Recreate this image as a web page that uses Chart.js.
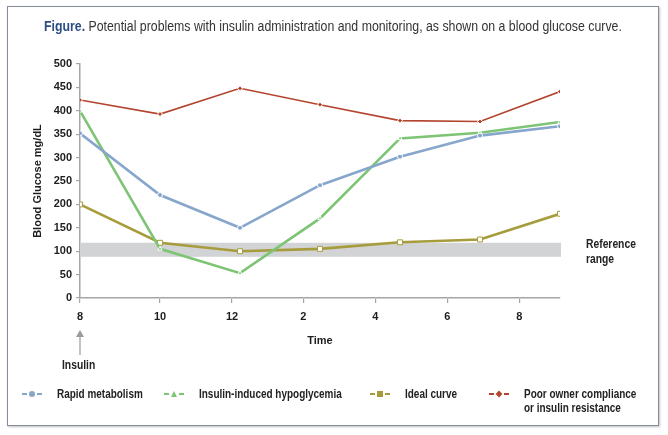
<!DOCTYPE html>
<html>
<head>
<meta charset="utf-8">
<script src="https://cdn.jsdelivr.net/npm/chart.js@4.4.0/dist/chart.umd.min.js"></script>
<style>
    body { margin: 0; background: #fff; font-family: "Liberation Sans", sans-serif; }
    #wrap { position: relative; width: 668px; height: 435px; overflow: hidden; }
    #frame { position: absolute; left: 7px; top: 6px; width: 650px; height: 418px; border: 1.5px solid #858c9c; box-shadow: 1px 1px 2px rgba(0,0,0,0.25); }
    #chart { position: absolute; left: 0; top: 0; }
    #title { position: absolute; left: 44px; top: 18px; font-size: 14px; color: #333; white-space: nowrap; transform-origin: left center; }
    #title b { color: #2c4d84; }
    .note { position: absolute; font-weight: bold; font-size: 12px; color: #222; line-height: 15px; transform: scaleX(0.86); transform-origin: left center; }
    .leg { position: absolute; top: 387px; font-weight: bold; font-size: 12px; color: #222; line-height: 14px; display: flex; }
    .leg .txt { display: inline-block; transform: scaleX(0.83); transform-origin: left top; white-space: nowrap; }
    .mk { display: inline-flex; align-items: center; width: 20px; height: 14px; margin-right: 15px; }
    .mk .ln { width: 5px; height: 2px; }
    .mk .sym { width: 6px; height: 6px; margin: 0 2px; }
</style>
</head>
<body>
<div id="wrap">
    <div id="frame"></div>
    <canvas id="chart" width="668" height="435"></canvas>
    <div id="title"><b>Figure.</b> Potential problems with insulin administration and monitoring, as shown on a blood glucose curve.</div>
    <div class="note" style="left:586px; top:237px;">Reference<br>range</div>
    <div class="note" style="left:62px; top:358px;">Insulin</div>
    <div id="legend"></div>
</div>

<script>
    // sample index 0..6 (points are evenly spaced), tick marks sit a bit off them
    const samples = [0, 1, 2, 3, 4, 5, 6]
    const tickPos = [0, 1, 1.9, 2.79, 3.69, 4.59, 5.49]
    const tickLabels = ["8", "10", "12", "2", "4", "6", "8"]

    const rapidMetabolism = [352, 220, 150, 241, 302, 347, 367]
    const hypoglycemia = [400, 105, 53, 170, 341, 353, 376]
    const idealCurve = [200, 118, 100, 105, 119, 125, 180]
    const poorCompliance = [423, 393, 448, 413, 379, 377, 441]

    const refRange = [88, 118]

    const seriesNames = ["Rapid metabolism", "Insulin-induced hypoglycemia", "Ideal curve", "Poor owner compliance\nor insulin resistance"]
    const seriesColors = ["#87a6cb", "#7dc474", "#a69c3c", "#b3452f"]
    const seriesShapes = ["circle", "triangle", "rect", "rectRot"]

    function toPoints(vals) {
        return vals.map((v, i) => ({ x: samples[i], y: v }))
    }

    const allSeries = [rapidMetabolism, hypoglycemia, idealCurve, poorCompliance]
    const datasets = allSeries.map((vals, idx) => ({
        label: seriesNames[idx],
        data: toPoints(vals),
        borderColor: seriesColors[idx],
        backgroundColor: idx == 2 ? "#fff" : seriesColors[idx],
        pointBorderColor: idx == 2 ? seriesColors[idx] : "#fff",
        pointStyle: seriesShapes[idx],
        pointRadius: idx == 2 ? 3.5 : 2.5,
        pointBorderWidth: 1,
        borderWidth: idx == 3 ? 1.6 : 2.6,
        tension: 0
    }))

    const extras = {
        id: "extras",
        beforeDatasetsDraw(chart) {
            const { ctx, chartArea, scales } = chart
            const y1 = scales.y.getPixelForValue(refRange[1])
            const y0 = scales.y.getPixelForValue(refRange[0])
            ctx.save()
            ctx.fillStyle = "#d2d3d5"
            ctx.fillRect(chartArea.left, y1, chartArea.right - chartArea.left + 1, y0 - y1)
            ctx.restore()
        },
        afterDraw(chart) {
            const { ctx, scales } = chart
            const x = scales.x.getPixelForValue(0)
            ctx.save()
            ctx.strokeStyle = "#9a9a9a"
            ctx.fillStyle = "#9a9a9a"
            ctx.lineWidth = 1.2
            ctx.beginPath()
            ctx.moveTo(x, 355)
            ctx.lineTo(x, 335)
            ctx.stroke()
            ctx.beginPath()
            ctx.moveTo(x - 4, 337)
            ctx.lineTo(x, 330)
            ctx.lineTo(x + 4, 337)
            ctx.closePath()
            ctx.fill()
            ctx.restore()
        }
    }

    const tickFont = { family: "'Liberation Sans', sans-serif", size: 11, weight: "bold" }

    new Chart(document.getElementById("chart"), {
        type: "line",
        data: { datasets: datasets },
        options: {
            responsive: false,
            animation: false,
            layout: { padding: { left: 31, right: 108, top: 64, bottom: 87 } },
            plugins: { legend: { display: false }, tooltip: { enabled: false } },
            scales: {
                x: {
                    type: "linear",
                    min: 0,
                    max: 6,
                    afterBuildTicks: scale => { scale.ticks = tickPos.map(v => ({ value: v })) },
                    afterFit: scale => { scale.height = 50 },
                    ticks: {
                        callback: (v, i) => tickLabels[i],
                        font: tickFont,
                        color: "#1e1e1e",
                        padding: 7,
                        maxRotation: 0,
                        autoSkip: false
                    },
                    grid: { drawOnChartArea: false, tickLength: 5, color: "#a6a6a6", lineWidth: 1.2 },
                    border: { color: "#a6a6a6", width: 1.5 },
                    title: { display: true, text: "Time", font: tickFont, color: "#1e1e1e", padding: 0 }
                },
                y: {
                    min: 0,
                    max: 500,
                    afterFit: scale => { scale.width = 49 },
                    ticks: { stepSize: 50, font: tickFont, color: "#1e1e1e", padding: 4 },
                    grid: { drawOnChartArea: false, tickLength: 4, color: "#a6a6a6", lineWidth: 1.2 },
                    border: { color: "#a6a6a6", width: 1.5 },
                    title: { display: true, text: "Blood Glucose mg/dL", font: tickFont, color: "#1e1e1e", padding: 0 }
                }
            }
        },
        plugins: [extras]
    })

    // legend in html, from the same series arrays
    const legendLeft = [22, 164, 370, 489]
    let content = ""
    seriesNames.forEach((name, idx) => {
        let c = seriesColors[idx]
        let sym = ""
        if (seriesShapes[idx] == "circle") sym = `background:${c};border-radius:50%;`
        else if (seriesShapes[idx] == "triangle") sym = `background:${c};clip-path:polygon(50% 0,100% 100%,0 100%);`
        else if (seriesShapes[idx] == "rect") sym = `background:${c};`
        else sym = `background:${c};transform:rotate(45deg) scale(0.8);`
        content += `
        <div class="leg" style="left:${legendLeft[idx]}px">
            <span class="mk"><span class="ln" style="background:${c}"></span><span class="sym" style="${sym}"></span><span class="ln" style="background:${c}"></span></span>
            <span class="txt">${name.replace("\n", "<br>")}</span>
        </div>`
    })
    document.getElementById("legend").innerHTML = content

    // squeeze the title to the width it has in the figure
    const title = document.getElementById("title")
    title.style.transform = `scaleX(${578 / title.offsetWidth})`
</script>
</body>
</html>
